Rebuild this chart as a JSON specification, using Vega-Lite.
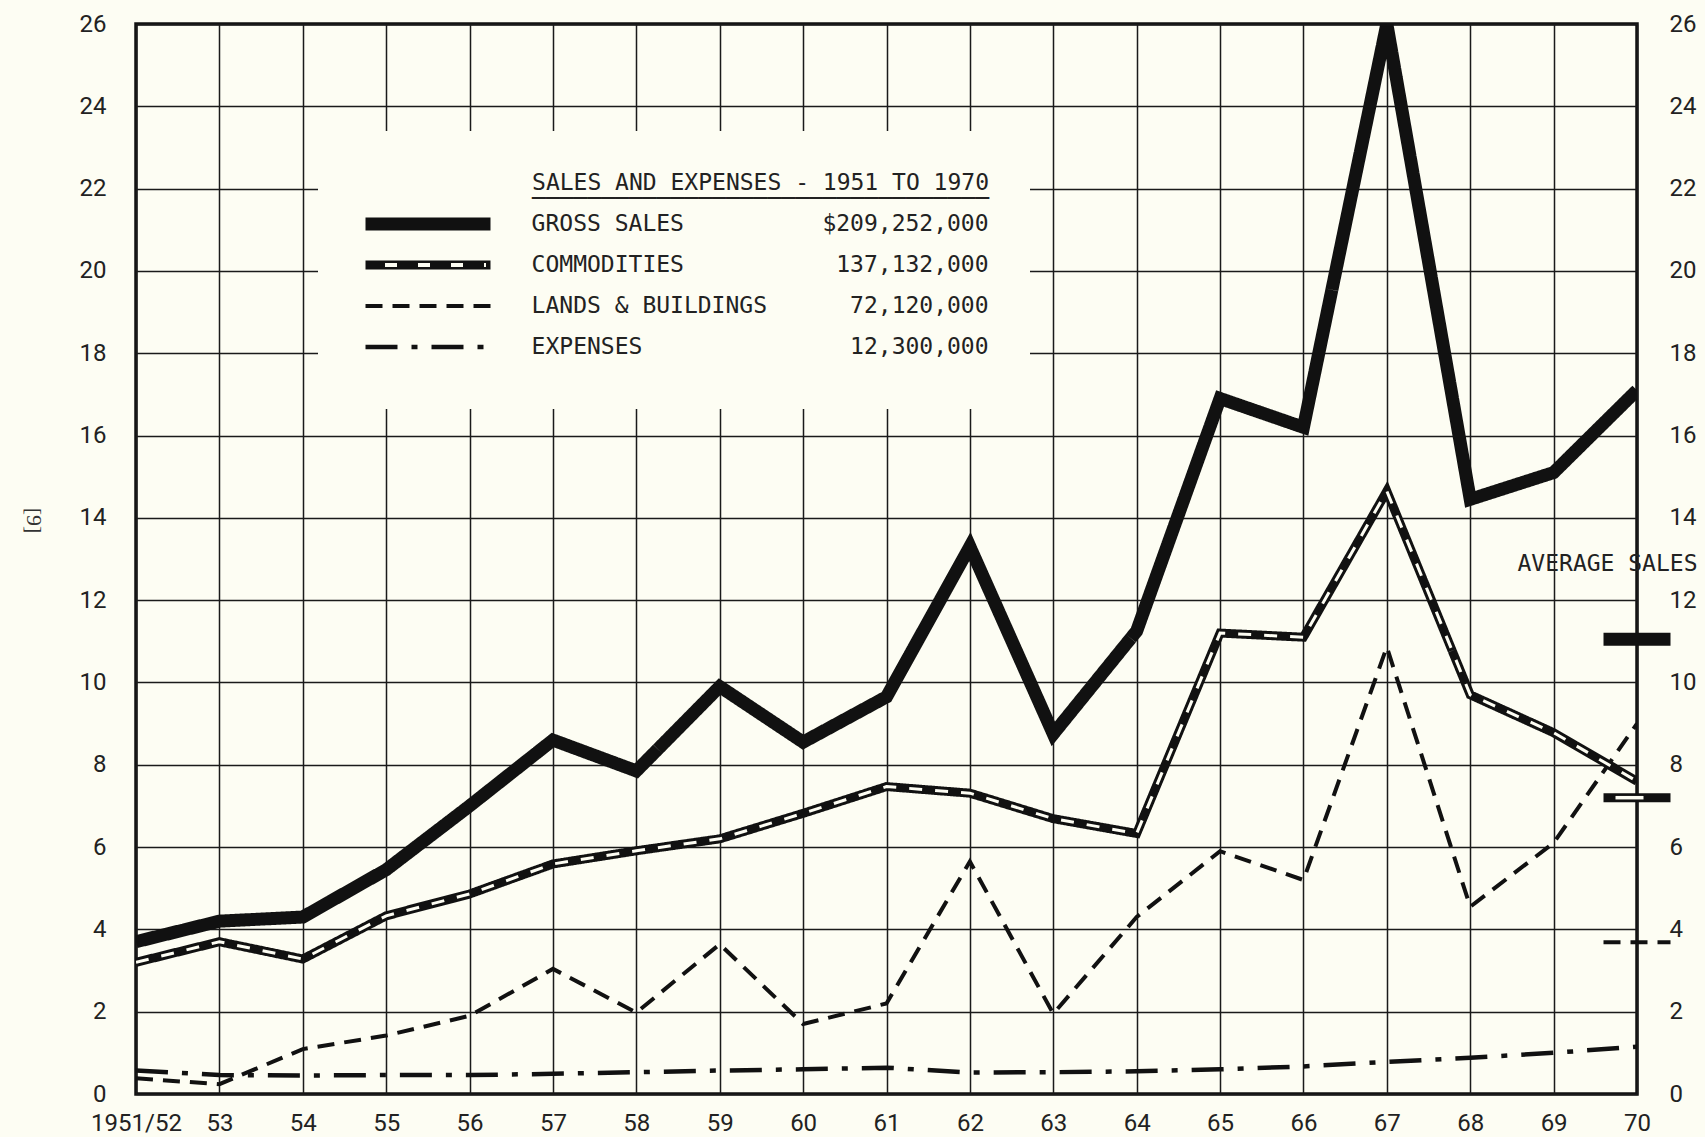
{
  "$schema": "https://vega.github.io/schema/vega-lite/v6.json",
  "width": 1501,
  "height": 1070,
  "autosize": {"type": "none"},
  "padding": {"left": 136, "top": 24, "right": 68, "bottom": 43},
  "background": "#fdfdf3",
  "config": {
    "view": {"stroke": "#111111", "strokeWidth": 3.5},
    "font": "Roboto"
  },
  "datasets": {
    "series": [
      {"year": "1951/52", "series": "GROSS SALES", "value": 3.7},
      {"year": "53", "series": "GROSS SALES", "value": 4.2},
      {"year": "54", "series": "GROSS SALES", "value": 4.3},
      {"year": "55", "series": "GROSS SALES", "value": 5.45},
      {"year": "56", "series": "GROSS SALES", "value": 7.0},
      {"year": "57", "series": "GROSS SALES", "value": 8.6},
      {"year": "58", "series": "GROSS SALES", "value": 7.85},
      {"year": "59", "series": "GROSS SALES", "value": 9.9},
      {"year": "60", "series": "GROSS SALES", "value": 8.55},
      {"year": "61", "series": "GROSS SALES", "value": 9.65},
      {"year": "62", "series": "GROSS SALES", "value": 13.3},
      {"year": "63", "series": "GROSS SALES", "value": 8.75},
      {"year": "64", "series": "GROSS SALES", "value": 11.25},
      {"year": "65", "series": "GROSS SALES", "value": 16.9},
      {"year": "66", "series": "GROSS SALES", "value": 16.2},
      {"year": "67", "series": "GROSS SALES", "value": 26.0},
      {"year": "68", "series": "GROSS SALES", "value": 14.45},
      {"year": "69", "series": "GROSS SALES", "value": 15.1},
      {"year": "70", "series": "GROSS SALES", "value": 17.1},
      {"year": "1951/52", "series": "COMMODITIES", "value": 3.2},
      {"year": "53", "series": "COMMODITIES", "value": 3.7},
      {"year": "54", "series": "COMMODITIES", "value": 3.28},
      {"year": "55", "series": "COMMODITIES", "value": 4.33},
      {"year": "56", "series": "COMMODITIES", "value": 4.86},
      {"year": "57", "series": "COMMODITIES", "value": 5.59},
      {"year": "58", "series": "COMMODITIES", "value": 5.91},
      {"year": "59", "series": "COMMODITIES", "value": 6.2},
      {"year": "60", "series": "COMMODITIES", "value": 6.82},
      {"year": "61", "series": "COMMODITIES", "value": 7.47},
      {"year": "62", "series": "COMMODITIES", "value": 7.31},
      {"year": "63", "series": "COMMODITIES", "value": 6.69},
      {"year": "64", "series": "COMMODITIES", "value": 6.33},
      {"year": "65", "series": "COMMODITIES", "value": 11.2},
      {"year": "66", "series": "COMMODITIES", "value": 11.1},
      {"year": "67", "series": "COMMODITIES", "value": 14.65},
      {"year": "68", "series": "COMMODITIES", "value": 9.7},
      {"year": "69", "series": "COMMODITIES", "value": 8.78},
      {"year": "70", "series": "COMMODITIES", "value": 7.6},
      {"year": "1951/52", "series": "LANDS & BUILDINGS", "value": 0.38},
      {"year": "53", "series": "LANDS & BUILDINGS", "value": 0.24},
      {"year": "54", "series": "LANDS & BUILDINGS", "value": 1.09},
      {"year": "55", "series": "LANDS & BUILDINGS", "value": 1.42},
      {"year": "56", "series": "LANDS & BUILDINGS", "value": 1.9},
      {"year": "57", "series": "LANDS & BUILDINGS", "value": 3.04},
      {"year": "58", "series": "LANDS & BUILDINGS", "value": 1.98},
      {"year": "59", "series": "LANDS & BUILDINGS", "value": 3.64},
      {"year": "60", "series": "LANDS & BUILDINGS", "value": 1.7},
      {"year": "61", "series": "LANDS & BUILDINGS", "value": 2.2},
      {"year": "62", "series": "LANDS & BUILDINGS", "value": 5.65},
      {"year": "63", "series": "LANDS & BUILDINGS", "value": 1.95},
      {"year": "64", "series": "LANDS & BUILDINGS", "value": 4.3},
      {"year": "65", "series": "LANDS & BUILDINGS", "value": 5.9},
      {"year": "66", "series": "LANDS & BUILDINGS", "value": 5.2},
      {"year": "67", "series": "LANDS & BUILDINGS", "value": 10.86},
      {"year": "68", "series": "LANDS & BUILDINGS", "value": 4.55},
      {"year": "69", "series": "LANDS & BUILDINGS", "value": 6.1},
      {"year": "70", "series": "LANDS & BUILDINGS", "value": 9.0},
      {"year": "1951/52", "series": "EXPENSES", "value": 0.57},
      {"year": "53", "series": "EXPENSES", "value": 0.46},
      {"year": "54", "series": "EXPENSES", "value": 0.45},
      {"year": "55", "series": "EXPENSES", "value": 0.46},
      {"year": "56", "series": "EXPENSES", "value": 0.46},
      {"year": "57", "series": "EXPENSES", "value": 0.49},
      {"year": "58", "series": "EXPENSES", "value": 0.53},
      {"year": "59", "series": "EXPENSES", "value": 0.57},
      {"year": "60", "series": "EXPENSES", "value": 0.6},
      {"year": "61", "series": "EXPENSES", "value": 0.64},
      {"year": "62", "series": "EXPENSES", "value": 0.52},
      {"year": "63", "series": "EXPENSES", "value": 0.53},
      {"year": "64", "series": "EXPENSES", "value": 0.55},
      {"year": "65", "series": "EXPENSES", "value": 0.6},
      {"year": "66", "series": "EXPENSES", "value": 0.67},
      {"year": "67", "series": "EXPENSES", "value": 0.78},
      {"year": "68", "series": "EXPENSES", "value": 0.88},
      {"year": "69", "series": "EXPENSES", "value": 1.0},
      {"year": "70", "series": "EXPENSES", "value": 1.15}
    ],
    "averages": [
      {"year": "70", "series": "GROSS SALES", "value": 11.05},
      {"year": "70", "series": "COMMODITIES", "value": 7.2},
      {"year": "70", "series": "LANDS & BUILDINGS", "value": 3.69}
    ]
  },
  "layer": [
    {
      "data": {"name": "series"},
      "mark": {"type": "line", "clip": true, "strokeJoin": "miter", "strokeCap": "butt", "strokeMiterLimit": 10},
      "encoding": {
        "x": {
          "field": "year", "type": "ordinal",
          "scale": {"type": "point", "padding": 0, "domain": ["1951/52","53","54","55","56","57","58","59","60","61","62","63","64","65","66","67","68","69","70"]},
          "axis": {
            "grid": true, "gridColor": "#1a1a1a", "gridWidth": 1.5, "ticks": false, "domain": false,
            "labelFont": "Roboto", "labelFontSize": 24, "labelPadding": 17, "labelColor": "#222222",
            "labelAngle": 0, "labelOverlap": false, "labelFlush": false, "title": null,
            "encode": {"labels": {"update": {"dx": {"signal": "datum.value === '1951/52' ? -21 : 0"}}}}
          }
        },
        "y": {
          "field": "value", "type": "quantitative",
          "scale": {"domain": [0, 26], "nice": false},
          "axis": {
            "values": [0,2,4,6,8,10,12,14,16,18,20,22,24,26],
            "grid": true, "gridColor": "#1a1a1a", "gridWidth": 1.5, "ticks": false, "domain": false,
            "labelFont": "Roboto", "labelFontSize": 24, "labelPadding": 30, "labelColor": "#222222",
            "title": "[9]", "titleAngle": 90, "titleX": -103, "titleY": 496,
            "titleAlign": "center", "titleBaseline": "middle",
            "titleFont": "Liberation Serif", "titleFontSize": 22, "titleFontWeight": "normal", "titleColor": "#333333"
          }
        },
        "color": {
          "field": "series", "type": "nominal",
          "scale": {"domain": ["GROSS SALES","COMMODITIES","LANDS & BUILDINGS","EXPENSES"], "range": ["#111111","#111111","#111111","#111111"]},
          "legend": {
            "orient": "none", "legendX": 182, "legendY": 107,
            "title": ["SALES AND EXPENSES - 1951 TO 1970", "\u2500\u2500\u2500\u2500\u2500\u2500\u2500\u2500\u2500\u2500\u2500\u2500\u2500\u2500\u2500\u2500\u2500\u2500\u2500\u2500\u2500\u2500\u2500\u2500\u2500\u2500\u2500\u2500\u2500\u2500\u2500\u2500\u2500"],
            "titleFont": "DejaVu Sans Mono", "titleFontSize": 23, "titleFontWeight": "normal", "titleColor": "#222222",
            "titleAnchor": "end", "titleLineHeight": 15.6, "titlePadding": -7, "titleLimit": 900,
            "labelFont": "DejaVu Sans Mono", "labelFontSize": 23, "labelColor": "#222222", "labelLimit": 900,
            "labelExpr": "datum.label == 'GROSS SALES' ? 'GROSS SALES\u00a0\u00a0\u00a0\u00a0\u00a0\u00a0\u00a0\u00a0\u00a0\u00a0$209,252,000' : datum.label == 'COMMODITIES' ? 'COMMODITIES\u00a0\u00a0\u00a0\u00a0\u00a0\u00a0\u00a0\u00a0\u00a0\u00a0\u00a0137,132,000' : datum.label == 'LANDS & BUILDINGS' ? 'LANDS & BUILDINGS\u00a0\u00a0\u00a0\u00a0\u00a0\u00a072,120,000' : 'EXPENSES\u00a0\u00a0\u00a0\u00a0\u00a0\u00a0\u00a0\u00a0\u00a0\u00a0\u00a0\u00a0\u00a0\u00a0\u00a012,300,000'",
            "symbolType": "stroke", "symbolSize": 15625, "clipHeight": 41, "labelOffset": 34.6,
            "rowPadding": 0, "padding": 41, "fillColor": "#fdfdf3",
            "encode": {"symbols": {"update": {
              "strokeDash": {"signal": "datum.value == 'LANDS & BUILDINGS' ? [25,25] : datum.value == 'EXPENSES' ? [32,15,5,15] : [1,0]"},
              "strokeWidth": {"signal": "datum.value == 'GROSS SALES' ? 17 : datum.value == 'COMMODITIES' ? 10 : 4.5"}
            }}}
          }
        },
        "strokeDash": {
          "field": "series", "type": "nominal",
          "scale": {"domain": ["GROSS SALES","COMMODITIES","LANDS & BUILDINGS","EXPENSES"], "range": [[1,0],[1,0],[17,10],[32,14,6,14]]}
        },
        "strokeWidth": {
          "field": "series", "type": "nominal",
          "scale": {"type": "ordinal", "domain": ["GROSS SALES","COMMODITIES","LANDS & BUILDINGS","EXPENSES"], "range": [13,9,4,4.5]}
        }
      }
    },
    {
      "data": {"name": "series"},
      "transform": [{"filter": "datum.series == 'COMMODITIES'"}],
      "mark": {"type": "line", "clip": true, "stroke": "#fdfdf3", "strokeWidth": 3, "strokeDash": [13, 13], "strokeCap": "butt"},
      "encoding": {
        "x": {"field": "year", "type": "ordinal", "scale": {"type": "point", "padding": 0, "domain": ["1951/52","53","54","55","56","57","58","59","60","61","62","63","64","65","66","67","68","69","70"]}},
        "y": {"field": "value", "type": "quantitative", "scale": {"domain": [0, 26], "nice": false}, "axis": null},
        "opacity": {
          "field": "series", "type": "nominal",
          "scale": {"type": "ordinal", "domain": ["GROSS SALES","COMMODITIES","LANDS & BUILDINGS","EXPENSES","~"], "range": [0,1,0,0,0]},
          "legend": {
            "orient": "none", "legendX": 182, "legendY": 138.6,
            "values": ["GROSS SALES","COMMODITIES","LANDS & BUILDINGS","EXPENSES"],
            "title": null,
            "labelFont": "DejaVu Sans Mono", "labelFontSize": 23, "labelExpr": "''",
            "symbolType": "stroke", "symbolSize": 15625, "clipHeight": 41, "labelOffset": 34.6,
            "rowPadding": 0, "padding": 41,
            "symbolStrokeColor": "#fdfdf3", "symbolStrokeWidth": 4, "symbolDash": [12, 21], "symbolDashOffset": 9
          }
        }
      }
    },
    {
      "data": {"name": "averages"},
      "mark": {"type": "point", "shape": "stroke", "filled": false, "size": 4489, "clip": false, "opacity": 1, "strokeCap": "butt"},
      "encoding": {
        "x": {"field": "year", "type": "ordinal", "scale": {"type": "point", "padding": 0, "domain": ["1951/52","53","54","55","56","57","58","59","60","61","62","63","64","65","66","67","68","69","70"]}},
        "y": {
          "field": "value", "type": "quantitative", "scale": {"domain": [0, 26], "nice": false},
          "axis": {
            "orient": "right", "values": [0,2,4,6,8,10,12,14,16,18,20,22,24,26],
            "grid": false, "ticks": false, "domain": false,
            "labelFont": "Roboto", "labelFontSize": 24, "labelPadding": 32, "labelColor": "#222222",
            "title": "AVERAGE SALES", "titleAngle": 0, "titleX": -30, "titleY": 539,
            "titleAlign": "center", "titleBaseline": "middle",
            "titleFont": "DejaVu Sans Mono", "titleFontSize": 23, "titleFontWeight": "normal", "titleColor": "#222222"
          }
        },
        "color": {"field": "series", "type": "nominal", "scale": {"domain": ["GROSS SALES","COMMODITIES","LANDS & BUILDINGS","EXPENSES"], "range": ["#111111","#111111","#111111","#111111"]}, "legend": null},
        "strokeDash": {"field": "series", "type": "nominal", "scale": {"domain": ["GROSS SALES","COMMODITIES","LANDS & BUILDINGS","EXPENSES"], "range": [[1,0],[1,0],[17,10],[32,14,6,14]]}, "legend": null},
        "strokeWidth": {"field": "series", "type": "nominal", "scale": {"type": "ordinal", "domain": ["GROSS SALES","COMMODITIES","LANDS & BUILDINGS","EXPENSES"], "range": [13,9,4,4.5]}, "legend": null}
      }
    },
    {
      "data": {"name": "averages"},
      "transform": [{"filter": "datum.series == 'COMMODITIES'"}],
      "mark": {"type": "point", "shape": "stroke", "filled": false, "size": 4489, "clip": false, "opacity": 1, "stroke": "#fdfdf3", "strokeWidth": 3.5, "strokeDash": [28, 60], "strokeDashOffset": 76, "strokeCap": "butt"},
      "encoding": {
        "x": {"field": "year", "type": "ordinal", "scale": {"type": "point", "padding": 0, "domain": ["1951/52","53","54","55","56","57","58","59","60","61","62","63","64","65","66","67","68","69","70"]}},
        "y": {"field": "value", "type": "quantitative", "scale": {"domain": [0, 26], "nice": false}, "axis": null}
      }
    }
  ],
  "resolve": {"axis": {"y": "independent"}}
}
